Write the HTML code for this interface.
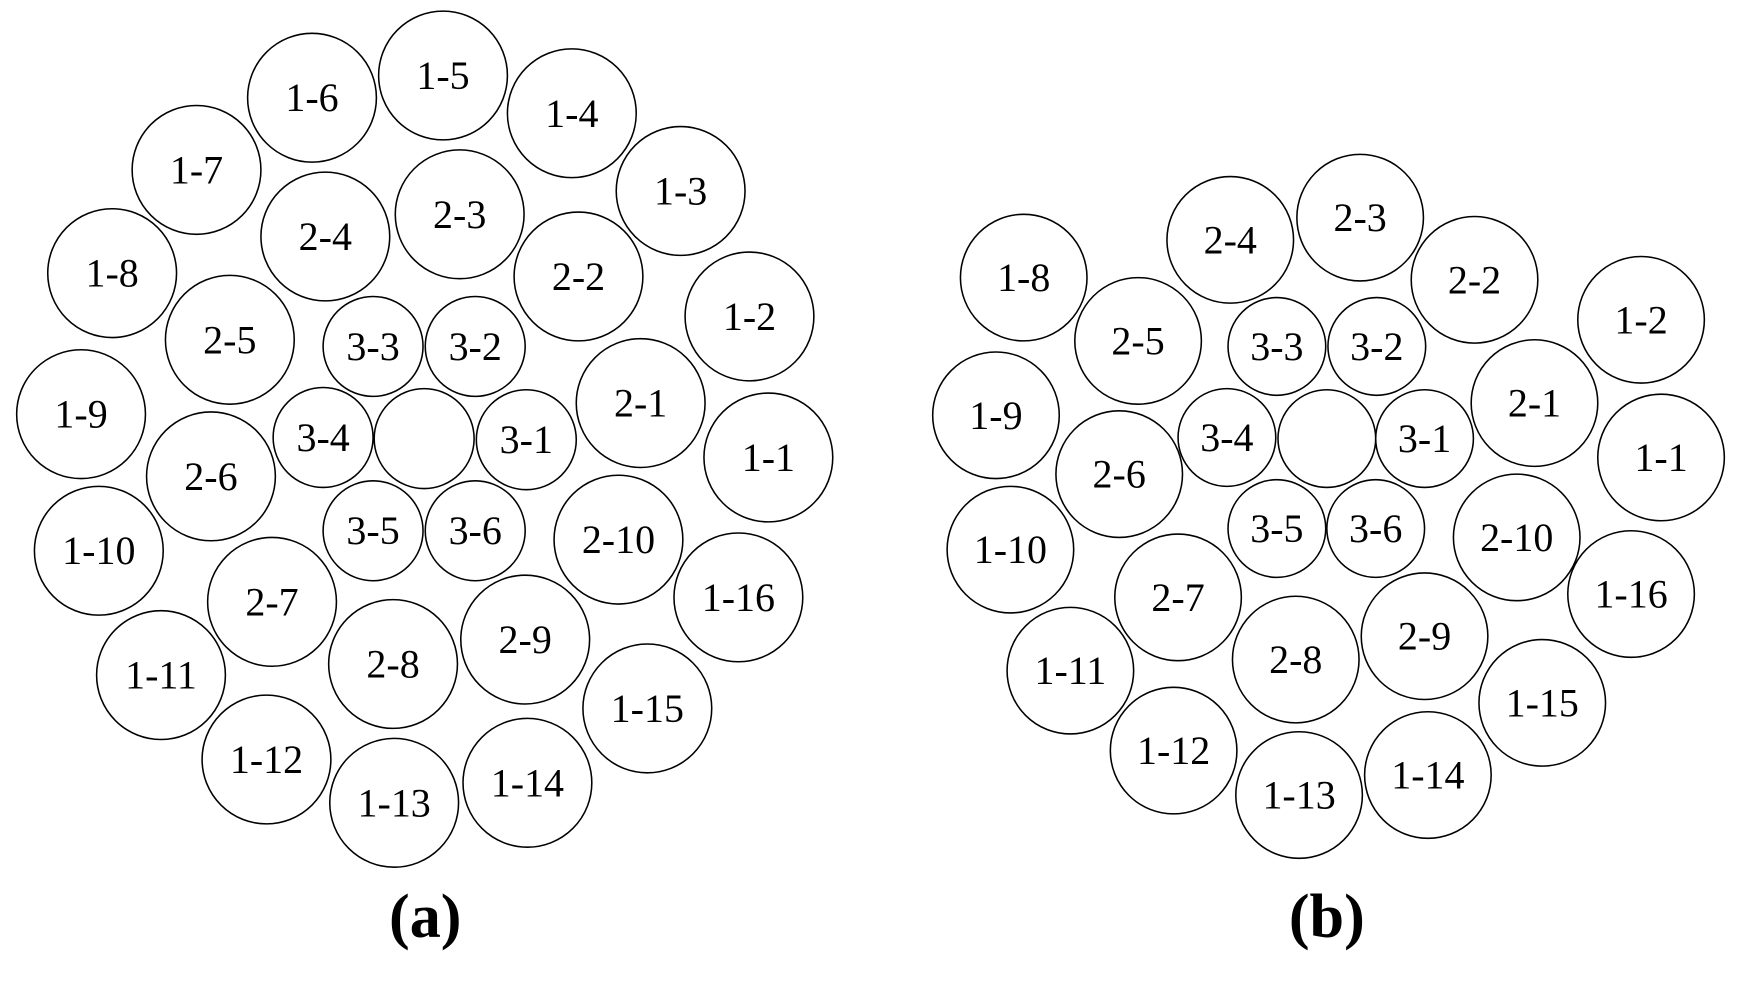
<!DOCTYPE html>
<html><head><meta charset="utf-8"><style>
html,body{margin:0;padding:0;background:#fff;}
svg{display:block;}
text{font-family:"Liberation Serif",serif;font-size:36px;fill:#000;text-anchor:middle;dominant-baseline:central;}
.big{font-size:56px;font-weight:bold;}
circle{fill:#fff;stroke:#000;stroke-width:1.4;}
</style></head><body>
<svg width="1741" height="996" viewBox="0 0 1568 897" preserveAspectRatio="none" xmlns="http://www.w3.org/2000/svg">
<g id="a">
<circle cx="399" cy="68" r="58"/><text x="399" y="68">1-5</text>
<circle cx="281" cy="88" r="58"/><text x="281" y="88">1-6</text>
<circle cx="515" cy="102" r="58"/><text x="515" y="102">1-4</text>
<circle cx="177" cy="153" r="58"/><text x="177" y="153">1-7</text>
<circle cx="613" cy="172" r="58"/><text x="613" y="172">1-3</text>
<circle cx="101" cy="246" r="58"/><text x="101" y="246">1-8</text>
<circle cx="675" cy="285" r="58"/><text x="675" y="285">1-2</text>
<circle cx="73" cy="373" r="58"/><text x="73" y="373">1-9</text>
<circle cx="692" cy="412" r="58"/><text x="692" y="412">1-1</text>
<circle cx="89" cy="496" r="58"/><text x="89" y="496">1-10</text>
<circle cx="665" cy="538" r="58"/><text x="665" y="538">1-16</text>
<circle cx="145" cy="608" r="58"/><text x="145" y="608">1-11</text>
<circle cx="583" cy="638" r="58"/><text x="583" y="638">1-15</text>
<circle cx="240" cy="684" r="58"/><text x="240" y="684">1-12</text>
<circle cx="475" cy="705" r="58"/><text x="475" y="705">1-14</text>
<circle cx="355" cy="723" r="58"/><text x="355" y="723">1-13</text>
<circle cx="414" cy="193" r="58"/><text x="414" y="193">2-3</text>
<circle cx="293" cy="213" r="58"/><text x="293" y="213">2-4</text>
<circle cx="521" cy="249" r="58"/><text x="521" y="249">2-2</text>
<circle cx="207" cy="306" r="58"/><text x="207" y="306">2-5</text>
<circle cx="577" cy="363" r="58"/><text x="577" y="363">2-1</text>
<circle cx="190" cy="429" r="58"/><text x="190" y="429">2-6</text>
<circle cx="557" cy="486" r="58"/><text x="557" y="486">2-10</text>
<circle cx="245" cy="542" r="58"/><text x="245" y="542">2-7</text>
<circle cx="473" cy="576" r="58"/><text x="473" y="576">2-9</text>
<circle cx="354" cy="598" r="58"/><text x="354" y="598">2-8</text>
<circle cx="336" cy="312" r="45"/><text x="336" y="312">3-3</text>
<circle cx="428" cy="312" r="45"/><text x="428" y="312">3-2</text>
<circle cx="291" cy="394" r="45"/><text x="291" y="394">3-4</text>
<circle cx="382" cy="395" r="45"/>
<circle cx="474" cy="396" r="45"/><text x="474" y="396">3-1</text>
<circle cx="336" cy="478" r="45"/><text x="336" y="478">3-5</text>
<circle cx="428" cy="478" r="45"/><text x="428" y="478">3-6</text>
</g>
<g id="b">
<circle cx="1225" cy="196" r="57"/><text x="1225" y="196">2-3</text>
<circle cx="1108" cy="216" r="57"/><text x="1108" y="216">2-4</text>
<circle cx="1328" cy="252" r="57"/><text x="1328" y="252">2-2</text>
<circle cx="922" cy="250" r="57"/><text x="922" y="250">1-8</text>
<circle cx="1478" cy="288" r="57"/><text x="1478" y="288">1-2</text>
<circle cx="1025" cy="307" r="57"/><text x="1025" y="307">2-5</text>
<circle cx="1382" cy="363" r="57"/><text x="1382" y="363">2-1</text>
<circle cx="897" cy="374" r="57"/><text x="897" y="374">1-9</text>
<circle cx="1496" cy="412" r="57"/><text x="1496" y="412">1-1</text>
<circle cx="1008" cy="427" r="57"/><text x="1008" y="427">2-6</text>
<circle cx="1366" cy="484" r="57"/><text x="1366" y="484">2-10</text>
<circle cx="910" cy="495" r="57"/><text x="910" y="495">1-10</text>
<circle cx="1469" cy="535" r="57"/><text x="1469" y="535">1-16</text>
<circle cx="1061" cy="538" r="57"/><text x="1061" y="538">2-7</text>
<circle cx="1283" cy="573" r="57"/><text x="1283" y="573">2-9</text>
<circle cx="1167" cy="594" r="57"/><text x="1167" y="594">2-8</text>
<circle cx="964" cy="604" r="57"/><text x="964" y="604">1-11</text>
<circle cx="1389" cy="633" r="57"/><text x="1389" y="633">1-15</text>
<circle cx="1057" cy="676" r="57"/><text x="1057" y="676">1-12</text>
<circle cx="1286" cy="698" r="57"/><text x="1286" y="698">1-14</text>
<circle cx="1170" cy="716" r="57"/><text x="1170" y="716">1-13</text>
<circle cx="1150" cy="312" r="44"/><text x="1150" y="312">3-3</text>
<circle cx="1240" cy="312" r="44"/><text x="1240" y="312">3-2</text>
<circle cx="1105" cy="394" r="44"/><text x="1105" y="394">3-4</text>
<circle cx="1195" cy="395" r="44"/>
<circle cx="1283" cy="395" r="44"/><text x="1283" y="395">3-1</text>
<circle cx="1150" cy="476" r="44"/><text x="1150" y="476">3-5</text>
<circle cx="1239" cy="476" r="44"/><text x="1239" y="476">3-6</text>
</g>
<text class="big" x="383" y="826">(a)</text>
<text class="big" x="1195" y="826">(b)</text>
</svg>
</body></html>
